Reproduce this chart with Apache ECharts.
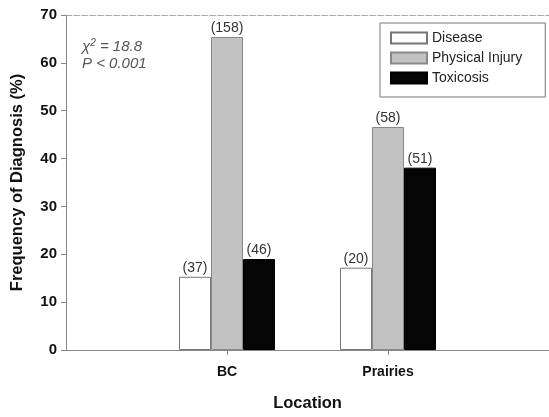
<!DOCTYPE html>
<html>
<head>
<meta charset="utf-8">
<script src="https://cdn.jsdelivr.net/npm/echarts@6/dist/echarts.min.js"></script>
<style>html,body{margin:0;padding:0;background:#fff}#c{width:549px;height:417px}</style>
</head>
<body>
<div id="c"></div>
<script>
var categories = ['', 'BC', 'Prairies', ''];
var diseaseVals = [null, 15.3, 17.2, null];
var injuryVals = [null, 65.4, 46.6, null];
var toxicVals = [null, 19.0, 38.1, null];
var diseaseN = [null, 37, 20, null];
var injuryN = [null, 158, 58, null];
var toxicN = [null, 46, 51, null];
var yTicks = [0, 10, 20, 30, 40, 50, 60, 70];

var FONT = 'Liberation Sans, Arial, sans-serif';
function lbl(counts) {
  return {
    show: true, position: 'top', distance: 2,
    fontFamily: FONT, fontSize: 14, color: '#333',
    formatter: function (p) { return '(' + counts[p.dataIndex] + ')'; }
  };
}
var chart = echarts.init(document.getElementById('c'));
chart.setOption({
  animation: false,
  grid: { left: 66, right: -3, top: 15, bottom: 65 },
  legend: {
    orient: 'vertical', left: 380, top: 23,
    padding: [8, 23, 12, 10],
    itemWidth: 36, itemHeight: 11, itemGap: 6,
    icon: 'rect',
    borderColor: '#777', borderWidth: 1,
    textStyle: { fontFamily: FONT, fontSize: 14, color: '#222' },
    data: ['Disease', 'Physical Injury', 'Toxicosis']
  },
  xAxis: [{
    type: 'category', data: categories, boundaryGap: false,
    name: 'Location', nameLocation: 'middle', nameGap: 45,
    nameTextStyle: { fontFamily: FONT, fontSize: 16.5, fontWeight: 'bold', color: '#111' },
    axisLine: { lineStyle: { color: '#888', width: 1 } },
    axisTick: { length: 5, lineStyle: { color: '#888' }, interval: function (i) { return i === 1 || i === 2; } },
    axisLabel: { fontFamily: FONT, fontSize: 14, fontWeight: 'bold', color: '#111', margin: 15,
      interval: function (i) { return i === 1 || i === 2; } }
  }, {
    type: 'category', data: categories, position: 'top',
    axisLine: { lineStyle: { color: '#aaa', width: 1, type: [6, 2] } },
    axisTick: { show: false }, axisLabel: { show: false }
  }],
  yAxis: {
    type: 'value', min: 0, max: 70, interval: 10,
    name: 'Frequency of Diagnosis (%)', nameLocation: 'middle', nameGap: 40,
    nameTextStyle: { fontFamily: FONT, fontSize: 16.5, fontWeight: 'bold', color: '#111' },
    axisLine: { show: true, lineStyle: { color: '#888', width: 1 } },
    axisTick: { show: true, length: 5, lineStyle: { color: '#888' } },
    splitLine: { show: false },
    axisLabel: { fontFamily: FONT, fontSize: 15, fontWeight: 'bold', color: '#111', margin: 9,
      formatter: function (v) { return yTicks.indexOf(v) >= 0 ? String(v) : ''; } }
  },
  graphic: [{
    type: 'text', left: 82, top: 38,
    style: {
      text: '{a|χ}{s|2}{a| = 18.8}\n{a|P < 0.001}',
      rich: {
        a: { fontFamily: FONT, fontSize: 15, fontStyle: 'italic', fill: '#555', lineHeight: 17 },
        s: { fontFamily: FONT, fontSize: 10, fontStyle: 'italic', fill: '#555', verticalAlign: 'top', padding: [0, 0, 7, 0] }
      }
    }
  }],
  series: [{
    name: 'Disease', type: 'bar', data: diseaseVals, barWidth: 32, barGap: '0%',
    itemStyle: { color: '#ffffff', borderColor: '#777', borderWidth: 1 },
    label: lbl(diseaseN)
  }, {
    name: 'Physical Injury', type: 'bar', data: injuryVals, barWidth: 32, barGap: '0%',
    itemStyle: { color: '#c2c2c2', borderColor: '#888', borderWidth: 1 },
    label: lbl(injuryN)
  }, {
    name: 'Toxicosis', type: 'bar', data: toxicVals, barWidth: 32, barGap: '0%',
    itemStyle: { color: '#050505', borderColor: '#000', borderWidth: 1 },
    label: lbl(toxicN)
  }]
});
</script>
</body>
</html>
